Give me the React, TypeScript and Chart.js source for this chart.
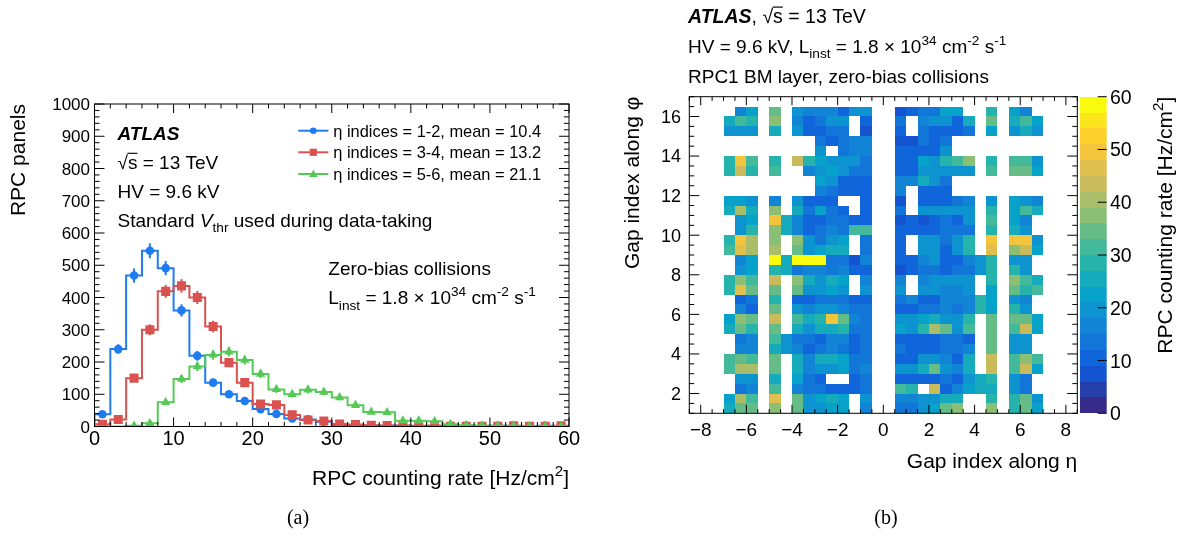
import React, { useEffect, useRef } from 'react';
import { Chart, registerables } from 'chart.js';
Chart.register(...registerables);

const SANS = '"Liberation Sans", Arial, Helvetica, sans-serif';
const SERIF = '"Liberation Serif", "Times New Roman", Times, serif';

// ---------------- Left panel data ----------------
const binEdges = [0, 2, 4, 6, 8, 10, 12, 14, 16, 18, 20, 22, 24, 26, 28, 30, 32, 34, 36, 38, 40, 42, 44, 46, 48, 50, 52, 54, 56, 58, 60];
const binCenters = [1, 3, 5, 7, 9, 11, 13, 15, 17, 19, 21, 23, 25, 27, 29, 31, 33, 35, 37, 39, 41, 43, 45, 47, 49, 51, 53, 55, 57, 59];
const countsEta12 = [38, 240, 468, 545, 491, 360, 219, 136, 100, 79, 54, 39, 25, 22, 15, 5, 4, 3, 2, 2, 1, 2, 2, 2, 1, 2, 1, 1, 2, 1];
const errorsEta12 = [6, 15, 22, 23, 22, 19, 15, 12, 10, 9, 7, 6, 5, 5, 4, 2, 2, 2, 1, 1, 1, 1, 1, 1, 1, 1, 1, 1, 1, 1];
const countsEta34 = [7, 22, 150, 300, 419, 436, 400, 310, 198, 136, 70, 67, 36, 20, 17, 8, 6, 4, 3, 3, 2, 2, 1, 1, 1, 1, 2, 1, 1, 2];
const errorsEta34 = [3, 5, 12, 17, 20, 21, 20, 18, 14, 12, 8, 8, 6, 4, 4, 3, 2, 2, 2, 2, 1, 1, 1, 1, 1, 1, 1, 1, 1, 1];
const countsEta56 = [0, 0, 2, 10, 75, 147, 186, 222, 232, 206, 163, 115, 100, 114, 107, 90, 66, 45, 44, 18, 18, 16, 7, 4, 3, 2, 2, 1, 1, 1];
const errorsEta56 = [0, 0, 1, 3, 9, 12, 14, 15, 15, 14, 13, 11, 10, 11, 10, 9, 8, 7, 7, 4, 4, 4, 3, 2, 2, 1, 1, 1, 1, 1];
const seriesLabels = ['η indices = 1-2, mean = 10.4', 'η indices = 3-4, mean = 13.2', 'η indices = 5-6, mean = 21.1'];
const leftXTicks = [0, 10, 20, 30, 40, 50, 60];
const leftYTicks = [0, 100, 200, 300, 400, 500, 600, 700, 800, 900, 1000];

// ---------------- Right panel data ----------------
const _ = null;
// rows from top (phi 16.0-16.5) to bottom (phi 1.0-1.5); columns eta -7.0 .. 7.0 in 0.5 steps
const heatRows: (number | null)[][] = [
  [_, 15, 22, _, 34, _, 20, 15, 15, 15, 10, 18, 18, _, _, 7, 9, 13, 13, 22, 22, _, _, 28, _, 22, 16, _],
  [25, 31, 28, _, 37, _, 15, 10, 13, 18, 18, _, 10, _, _, 13, _, 16, 18, 18, 10, 25, _, 34, _, 25, 31, 22],
  [20, 20, 18, _, 25, _, 20, 10, 10, 13, 13, _, 7, _, _, 10, _, 13, 10, 9, 9, 13, _, 22, _, 20, 25, 18],
  [_, _, _, _, _, _, _, _, 13, 10, 13, 15, 15, _, _, 7, 7, 13, 10, 13, _, _, _, _, _, _, _, _],
  [_, _, _, _, _, _, _, _, 18, _, 13, 15, 15, _, _, 9, 9, 10, 9, 18, _, _, _, _, _, _, _, _],
  [28, 50, 31, _, 28, _, 43, 28, 22, 18, 20, 18, 13, _, _, 9, 10, 22, 20, 28, 31, 37, _, 28, _, 31, 31, 20],
  [28, 43, 28, _, 31, _, _, 16, 20, 22, 20, 13, 13, _, _, 9, 10, 20, 18, 20, 20, 18, _, 31, _, 34, 34, 22],
  [_, _, _, _, _, _, _, _, 22, 20, 10, 10, 10, _, _, 15, 15, 25, 20, 13, _, _, _, _, _, _, _, _],
  [_, _, _, _, _, _, _, _, 16, 13, 10, 10, 10, _, _, 15, _, 9, 9, 10, _, _, _, _, _, _, _, _],
  [22, 22, 20, _, 15, _, 18, 10, 10, 9, _, _, 10, _, _, 7, _, 9, 9, 10, 13, 15, _, 18, _, 22, 20, 15],
  [25, 40, 25, _, 37, _, 25, 13, 22, 13, 10, _, 10, _, _, 13, _, 18, 18, 18, 18, 18, _, 28, _, 22, 31, 25],
  [_, 20, 22, _, 49, 25, 16, 10, 10, 13, 13, 10, 9, _, _, 7, 9, 7, 10, 13, 10, 18, _, 31, _, 22, 15, _],
  [_, 20, 28, _, 37, 25, 16, 10, 13, 16, 13, 31, 31, _, _, 9, 9, 9, 10, 13, 13, 13, _, 28, _, 25, 18, _],
  [28, 49, 40, _, 37, _, 37, 20, 13, 20, 22, _, 13, _, _, 9, _, 20, 18, 13, 18, 28, _, 50, _, 50, 50, 18],
  [31, 46, 40, _, 40, _, 34, 20, 22, 25, 25, _, 13, _, _, 9, _, 18, 20, 10, 18, 28, _, 46, _, 37, 43, 22],
  [_, 15, 22, _, 58, 25, 58, 58, 58, 13, 13, 7, 15, _, _, 9, 9, 15, 18, 10, 10, 15, 20, 28, _, 20, 18, _],
  [_, 20, 22, _, 28, 25, 13, 16, 16, 13, 16, 9, 10, _, _, 7, 9, 13, 13, 10, 13, 13, 20, 28, _, 28, 18, _],
  [28, 37, 31, _, 43, _, 37, 25, 20, 25, 22, _, 16, _, _, 15, _, 16, 18, 20, 18, 18, _, 28, _, 37, 31, 25],
  [28, 47, 34, _, 34, _, 34, 20, 20, 22, 20, _, 18, _, _, 18, _, 20, 20, 16, 16, 20, _, 22, _, 34, 28, 31],
  [_, 10, 13, _, 28, _, 10, 9, 13, 13, 13, 10, 9, _, _, 13, 15, 10, 10, 16, 15, 16, 28, 22, _, 20, 15, _],
  [_, 16, 9, _, 34, _, 20, 16, 18, 18, 16, 13, 13, _, _, 9, 9, 13, 13, 16, 13, 16, 28, 22, _, 28, 20, _],
  [22, 37, 34, _, 43, _, 31, 25, 28, 49, 34, 16, 13, _, _, 18, 18, 22, 25, 20, 20, 28, _, 34, _, 34, 34, 22],
  [25, 34, 28, _, 34, _, 25, 20, 25, 25, 28, 13, 13, _, _, 22, 18, 28, 40, 34, 20, 31, _, 34, _, 31, 43, 22],
  [_, 13, 16, _, 31, 20, 13, 13, 10, 16, 16, 10, 13, _, _, 9, 9, 9, 9, 13, 13, 9, _, 34, _, 20, 18, _],
  [_, 15, 16, _, 25, 20, 16, 10, 13, 16, 13, 10, 13, _, _, 13, 10, 10, 10, 13, 13, 15, _, 34, _, 18, 20, _],
  [31, 34, 31, _, 34, _, 25, 16, 25, 25, 22, 13, 13, _, _, 10, 10, 20, 20, 16, 10, 25, _, 43, _, 31, 37, 31],
  [31, 40, 40, _, 34, _, 25, 16, 20, 20, 22, 13, 16, _, _, 20, 20, 25, 34, 20, 16, 25, _, 43, _, 31, 44, 22],
  [_, 20, 20, _, 25, _, 22, 13, 9, _, _, 9, 13, _, _, 9, 9, 10, 10, 13, 10, 20, 25, 28, _, 18, 13, _],
  [_, 13, 16, _, 31, _, 16, 13, 13, 10, 10, 9, 13, _, _, 31, 28, _, 43, 10, 15, 22, 25, 25, _, 18, 13, _],
  [22, 40, 31, _, 47, _, 34, 20, 22, 25, 22, _, 18, _, _, 15, 15, 20, 18, 25, 25, _, _, 28, _, 28, 34, 20],
  [25, 34, 34, _, 37, _, 34, 20, 20, 22, 22, _, 16, _, _, 13, 13, 20, 22, 34, 37, _, _, 37, _, 28, 34, 22],
];
const etaFirstCenter = -6.75;
const phiTopCenter = 16.25;
const cellSize = 0.5;
const heatXTicks = [-8, -6, -4, -2, 0, 2, 4, 6, 8];
const heatXTickLabels = ['\u22128', '\u22126', '\u22124', '\u22122', '0', '2', '4', '6', '8'];
const heatYTicks = [2, 4, 6, 8, 10, 12, 14, 16];
const colorbarTicks = [0, 10, 20, 30, 40, 50, 60];
const colorbarLevels = 20;
const colorbarMax = 60;

// ROOT kBird palette
const birdStops = [0.0, 0.125, 0.25, 0.375, 0.5, 0.625, 0.75, 0.875, 1.0];
const birdR = [0.2082, 0.0592, 0.078, 0.0232, 0.1802, 0.5301, 0.8186, 0.9956, 0.9764];
const birdG = [0.1664, 0.3599, 0.5041, 0.6419, 0.7178, 0.7492, 0.7328, 0.7862, 0.9832];
const birdB = [0.5293, 0.8684, 0.8385, 0.7914, 0.6425, 0.4662, 0.3499, 0.1968, 0.0539];
function bird(t: number): string {
  let i = 0;
  while (i < birdStops.length - 2 && t > birdStops[i + 1]) i++;
  const f = (t - birdStops[i]) / (birdStops[i + 1] - birdStops[i]);
  const c = (a: number[]) => Math.round(255 * (a[i] + (a[i + 1] - a[i]) * f));
  return `rgb(${c(birdR)},${c(birdG)},${c(birdB)})`;
}
function levelColor(v: number): string {
  const band = Math.max(0, Math.min(colorbarLevels - 1, Math.floor(v / (colorbarMax / colorbarLevels))));
  return bird(band / (colorbarLevels - 1));
}

// ---------------- text helpers ----------------
type Seg = { t: string; sub?: boolean; sup?: boolean; it?: boolean; b?: boolean; over?: boolean };
function rich(ctx: CanvasRenderingContext2D, segs: Seg[], x: number, y: number, size: number,
  align: 'left' | 'right' | 'center' = 'left', family = SANS, color = '#000') {
  const parts = segs.map((s) => {
    const fs = s.sub || s.sup ? size * 0.72 : size;
    const font = `${s.it ? 'italic ' : ''}${s.b ? 'bold ' : ''}${fs}px ${family}`;
    ctx.font = font;
    return { s, font, w: ctx.measureText(s.t).width };
  });
  const total = parts.reduce((a, p) => a + p.w, 0);
  let cx = align === 'left' ? x : align === 'right' ? x - total : x - total / 2;
  ctx.fillStyle = color;
  ctx.textAlign = 'left';
  ctx.textBaseline = 'alphabetic';
  for (const p of parts) {
    ctx.font = p.font;
    const dy = p.s.sub ? size * 0.3 : p.s.sup ? -size * 0.42 : 0;
    ctx.fillText(p.s.t, cx, y + dy);
    if (p.s.over) {
      ctx.save();
      ctx.strokeStyle = color;
      ctx.lineWidth = Math.max(1, size * 0.06);
      ctx.beginPath();
      ctx.moveTo(cx - 0.5, y - size * 0.8);
      ctx.lineTo(cx + p.w, y - size * 0.8);
      ctx.stroke();
      ctx.restore();
    }
    cx += p.w;
  }
}
function richRot(ctx: CanvasRenderingContext2D, segs: Seg[], x: number, y: number, size: number) {
  ctx.save();
  ctx.translate(x, y);
  ctx.rotate(-Math.PI / 2);
  rich(ctx, segs, 0, 0, size, 'right');
  ctx.restore();
}
function range(a: number, b: number, step: number): number[] {
  const out: number[] = [];
  for (let v = a; v <= b + 1e-9; v += step) out.push(Math.round(v * 1000) / 1000);
  return out;
}

// ---------------- left chart ----------------
const seriesDefs = [
  { vals: countsEta12, errs: errorsEta12, color: '#1f7cf0', style: 'circle', r: 4.3 },
  { vals: countsEta34, errs: errorsEta34, color: '#d9524f', style: 'rect', r: 6.4 },
  { vals: countsEta56, errs: errorsEta56, color: '#55c955', style: 'triangle', r: 5.4 },
];

const leftPlugin = {
  id: 'leftDecor',
  beforeDatasetDraw(chart: any, args: any) {
    const ds = chart.data.datasets[args.index];
    if (!ds.errBars) return;
    const ctx = chart.ctx;
    const xs = chart.scales.x, ys = chart.scales.y;
    ctx.save();
    ctx.strokeStyle = ds.borderColor;
    ctx.lineWidth = 2;
    ds.data.forEach((p: any) => {
      if (!p.e) return;
      const x = xs.getPixelForValue(p.x);
      ctx.beginPath();
      ctx.moveTo(x, ys.getPixelForValue(Math.max(0, p.y - p.e)));
      ctx.lineTo(x, ys.getPixelForValue(p.y + p.e));
      ctx.stroke();
    });
    ctx.restore();
  },
  afterDraw(chart: any) {
    const ctx: CanvasRenderingContext2D = chart.ctx;
    const a = chart.chartArea;
    const xs = chart.scales.x, ys = chart.scales.y;
    ctx.save();
    ctx.strokeStyle = '#000';
    ctx.lineWidth = 1;
    ctx.strokeRect(a.left, a.top, a.right - a.left, a.bottom - a.top);
    ctx.beginPath();
    range(0, 60, 2).forEach((v) => {
      const x = xs.getPixelForValue(v);
      const len = v % 10 === 0 ? 9 : 4.5;
      ctx.moveTo(x, a.bottom); ctx.lineTo(x, a.bottom - len);
      ctx.moveTo(x, a.top); ctx.lineTo(x, a.top + len);
    });
    range(0, 1000, 20).forEach((v) => {
      const y = ys.getPixelForValue(v);
      const len = v % 100 === 0 ? 10 : 5;
      ctx.moveTo(a.left, y); ctx.lineTo(a.left + len, y);
      ctx.moveTo(a.right, y); ctx.lineTo(a.right - len, y);
    });
    ctx.stroke();
    ctx.fillStyle = '#000';
    ctx.font = `20px ${SANS}`;
    ctx.textAlign = 'center';
    ctx.textBaseline = 'alphabetic';
    leftXTicks.forEach((v) => ctx.fillText(String(v), xs.getPixelForValue(v), 445));
    ctx.font = `17px ${SANS}`;
    ctx.textAlign = 'right';
    leftYTicks.forEach((v) => ctx.fillText(String(v), 90, ys.getPixelForValue(v) + 6.1));

    // titles
    rich(ctx, [{ t: 'RPC counting rate [Hz/cm' }, { t: '2', sup: true }, { t: ']' }], a.right, 485, 21, 'right');
    richRot(ctx, [{ t: 'RPC panels' }], 25, a.top, 21);

    // annotations
    rich(ctx, [{ t: 'ATLAS', b: true, it: true }], 117.5, 139.5, 19);
    rich(ctx, [{ t: '\u221A' }, { t: 's', over: true }, { t: ' = 13 TeV' }], 117.5, 168.5, 19);
    rich(ctx, [{ t: 'HV = 9.6 kV' }], 117.5, 198, 19);
    rich(ctx, [{ t: 'Standard ' }, { t: 'V', it: true }, { t: 'thr', sub: true }, { t: ' used during data-taking' }], 117.5, 226.5, 19);
    rich(ctx, [{ t: 'Zero-bias collisions' }], 328.3, 275, 19);
    rich(ctx, [{ t: 'L' }, { t: 'inst', sub: true }, { t: ' = 1.8 \u00D7 10' }, { t: '34', sup: true }, { t: ' cm' }, { t: '-2', sup: true }, { t: ' s' }, { t: '-1', sup: true }], 328.3, 304, 19);

    // legend
    const ly = [130.7, 152.3, 174];
    seriesDefs.forEach((s, i) => {
      ctx.strokeStyle = s.color;
      ctx.fillStyle = s.color;
      ctx.lineWidth = 2;
      ctx.beginPath();
      ctx.moveTo(298.3, ly[i]);
      ctx.lineTo(328.3, ly[i]);
      ctx.stroke();
      if (s.style === 'circle') {
        ctx.beginPath(); ctx.arc(313.3, ly[i], 3.3, 0, Math.PI * 2); ctx.fill();
      } else if (s.style === 'rect') {
        ctx.fillRect(313.3 - 3.6, ly[i] - 3.6, 7.2, 7.2);
      } else {
        ctx.beginPath();
        ctx.moveTo(313.3, ly[i] - 4.2); ctx.lineTo(317.5, ly[i] + 3); ctx.lineTo(309.1, ly[i] + 3);
        ctx.closePath(); ctx.fill();
      }
      rich(ctx, [{ t: seriesLabels[i] }], 333.3, ly[i] + 6, 16.4);
    });

    rich(ctx, [{ t: '(a)' }], 298, 524, 20, 'center', SERIF);
    ctx.restore();
  },
};

function leftConfig(): any {
  const datasets: any[] = [];
  seriesDefs.forEach((s, i) => {
    const step = [{ x: binEdges[0], y: 0 }, ...s.vals.map((v, k) => ({ x: binEdges[k + 1], y: v }))];
    datasets.push({
      data: step, showLine: true, stepped: 'after', borderColor: s.color, borderWidth: 2,
      pointRadius: 0, fill: false, order: 10 - 2 * i,
    });
    const pts = binCenters.map((x, k) => ({ x, y: s.vals[k], e: s.errs[k] })).filter((p) => p.y > 0);
    datasets.push({
      data: pts, showLine: false, pointStyle: s.style, pointRadius: s.r, backgroundColor: s.color,
      borderColor: s.color, borderWidth: 0, order: 9 - 2 * i, errBars: true,
    });
  });
  return {
    type: 'scatter',
    data: { datasets },
    options: {
      responsive: false, animation: false, devicePixelRatio: 1, events: [],
      layout: { padding: { left: 94.5, top: 104, right: 24, bottom: 109.5 } },
      plugins: { legend: { display: false }, tooltip: { enabled: false } },
      scales: {
        x: { type: 'linear', display: false, min: 0, max: 60 },
        y: { type: 'linear', display: false, min: 0, max: 1000 },
      },
    },
    plugins: [leftPlugin],
  };
}

// ---------------- right chart ----------------
const OFF = 593;
const rightPlugin = {
  id: 'heatDecor',
  beforeDatasetsDraw(chart: any) {
    const ctx: CanvasRenderingContext2D = chart.ctx;
    const xs = chart.scales.x, ys = chart.scales.y;
    const h = cellSize / 2;
    ctx.save();
    chart.data.datasets[0].data.forEach((p: any) => {
      const x0 = Math.round(xs.getPixelForValue(p.x - h));
      const x1 = Math.round(xs.getPixelForValue(p.x + h));
      const y0 = Math.round(ys.getPixelForValue(p.y + h));
      const y1 = Math.round(ys.getPixelForValue(p.y - h));
      ctx.fillStyle = levelColor(p.v);
      ctx.fillRect(x0, y0, x1 - x0, y1 - y0);
    });
    ctx.restore();
  },
  afterDraw(chart: any) {
    const ctx: CanvasRenderingContext2D = chart.ctx;
    const a = chart.chartArea;
    const xs = chart.scales.x, ys = chart.scales.y, cb = chart.scales.cb;
    ctx.save();
    ctx.strokeStyle = '#000';
    ctx.lineWidth = 1;
    ctx.strokeRect(a.left, a.top, a.right - a.left, a.bottom - a.top);
    ctx.beginPath();
    range(-8.5, 8.5, 0.5).forEach((v) => {
      const x = xs.getPixelForValue(v);
      const len = Math.abs(v % 2) < 1e-6 ? 8.5 : 4.2;
      ctx.moveTo(x, a.bottom); ctx.lineTo(x, a.bottom - len);
      ctx.moveTo(x, a.top); ctx.lineTo(x, a.top + len);
    });
    range(1, 17, 0.5).forEach((v) => {
      const y = ys.getPixelForValue(v);
      const len = Math.abs(v % 2) < 1e-6 ? 10 : 5;
      ctx.moveTo(a.left, y); ctx.lineTo(a.left + len, y);
      ctx.moveTo(a.right, y); ctx.lineTo(a.right - len, y);
    });
    ctx.stroke();

    ctx.fillStyle = '#000';
    ctx.font = `19px ${SANS}`;
    ctx.textAlign = 'center';
    ctx.textBaseline = 'alphabetic';
    heatXTicks.forEach((v, i) => ctx.fillText(heatXTickLabels[i], xs.getPixelForValue(v), 435.5));
    ctx.font = `18px ${SANS}`;
    ctx.textAlign = 'right';
    heatYTicks.forEach((v) => ctx.fillText(String(v), 681 - OFF, ys.getPixelForValue(v) + 6.4));

    // colorbar
    const cbL = a.right + 2.7, cbR = a.right + 29.4;
    const step = colorbarMax / colorbarLevels;
    for (let i = 0; i < colorbarLevels; i++) {
      const yTop = Math.round(cb.getPixelForValue((i + 1) * step));
      const yBot = Math.round(cb.getPixelForValue(i * step));
      ctx.fillStyle = bird(i / (colorbarLevels - 1));
      ctx.fillRect(cbL, yTop, cbR - cbL, yBot - yTop);
    }
    ctx.strokeStyle = '#000';
    ctx.beginPath();
    colorbarTicks.forEach((v) => {
      const y = cb.getPixelForValue(v);
      ctx.moveTo(cbR - 9, y); ctx.lineTo(cbR, y);
    });
    ctx.stroke();
    ctx.fillStyle = '#000';
    ctx.font = `19.5px ${SANS}`;
    ctx.textAlign = 'left';
    colorbarTicks.forEach((v) => ctx.fillText(String(v), cbR + 3.3, cb.getPixelForValue(v) + 7));

    // titles
    rich(ctx, [{ t: 'Gap index along \u03B7' }], a.right, 468, 21, 'right');
    richRot(ctx, [{ t: 'Gap index along \u03C6' }], 639 - OFF, a.top, 21);
    richRot(ctx, [{ t: 'RPC counting rate [Hz/cm' }, { t: '2', sup: true }, { t: ']' }], 1171.7 - OFF, a.top, 21);

    // header
    const hx = 688 - OFF;
    rich(ctx, [{ t: 'ATLAS', b: true, it: true }, { t: ', ' }, { t: '\u221A' }, { t: 's', over: true }, { t: ' = 13 TeV' }], hx, 22.7, 19.5);
    rich(ctx, [{ t: 'HV = 9.6 kV, L' }, { t: 'inst', sub: true }, { t: ' = 1.8 \u00D7 10' }, { t: '34', sup: true }, { t: ' cm' }, { t: '-2', sup: true }, { t: ' s' }, { t: '-1', sup: true }], hx, 52.7, 19);
    rich(ctx, [{ t: 'RPC1 BM layer, zero-bias collisions' }], hx, 83.3, 19);

    rich(ctx, [{ t: '(b)' }], 886 - OFF, 524, 20, 'center', SERIF);
    ctx.restore();
  },
};

function rightConfig(): any {
  const cells: any[] = [];
  heatRows.forEach((row, k) => {
    row.forEach((v, c) => {
      if (v === null) return;
      cells.push({ x: etaFirstCenter + cellSize * c, y: phiTopCenter - cellSize * k, v });
    });
  });
  return {
    type: 'scatter',
    data: { datasets: [{ data: cells, pointRadius: 0, showLine: false }] },
    options: {
      responsive: false, animation: false, devicePixelRatio: 1, events: [],
      layout: { padding: { left: 689.3 - OFF, top: 96.7, right: 1186 - 1077.3, bottom: 536 - 413.3 } },
      plugins: { legend: { display: false }, tooltip: { enabled: false } },
      scales: {
        x: { type: 'linear', display: false, min: -8.5, max: 8.5 },
        y: { type: 'linear', display: false, min: 1, max: 17 },
        cb: { type: 'linear', axis: 'y', position: 'right', display: false, min: 0, max: colorbarMax },
      },
    },
    plugins: [rightPlugin],
  };
}

export default function App() {
  const leftRef = useRef<HTMLCanvasElement>(null);
  const rightRef = useRef<HTMLCanvasElement>(null);
  useEffect(() => {
    const c1 = new Chart(leftRef.current as HTMLCanvasElement, leftConfig());
    const c2 = new Chart(rightRef.current as HTMLCanvasElement, rightConfig());
    return () => {
      c1.destroy();
      c2.destroy();
    };
  }, []);
  return (
    <div style={{ position: 'absolute', left: 0, top: 0, width: 1186, height: 536, background: '#fff', overflow: 'hidden' }}>
      <canvas ref={leftRef} width={593} height={536} style={{ position: 'absolute', left: 0, top: 0 }} />
      <canvas ref={rightRef} width={593} height={536} style={{ position: 'absolute', left: OFF, top: 0 }} />
    </div>
  );
}
